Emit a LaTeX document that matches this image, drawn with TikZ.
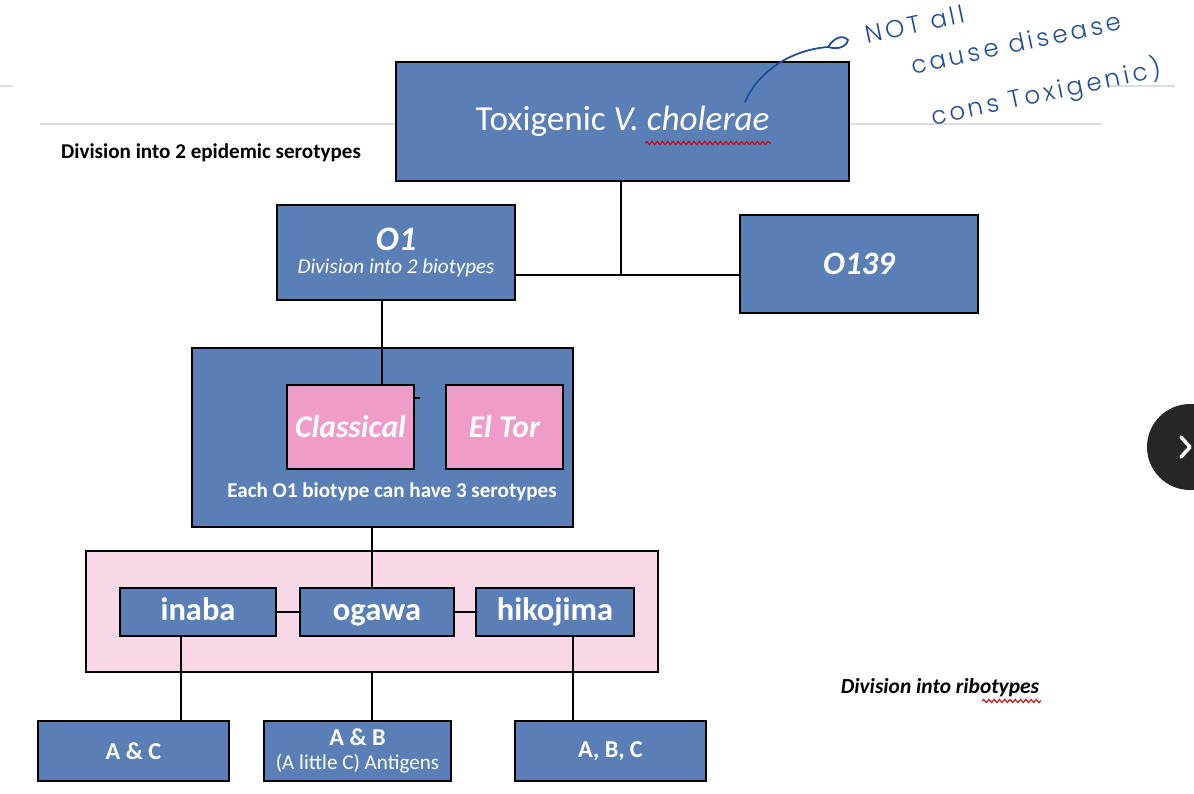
\documentclass[tikz,border=0pt]{standalone}
\usepackage{fontspec}
\setmainfont{Carlito}
\newfontfamily\handfont[LetterSpace=14]{Poppins Light}
\usetikzlibrary{decorations.pathmorphing}
\definecolor{boxblue}{HTML}{5A7EB6}
\definecolor{clpink}{HTML}{F09CC8}
\definecolor{bgpink}{HTML}{F8D8E7}
\definecolor{handblue}{HTML}{1E4C98}
\definecolor{rulegray}{HTML}{DDDDDD}
\tikzset{
  box/.style={draw=black, line width=1.1pt, fill=boxblue, text=white, inner sep=0pt, align=center},
  pinkbox/.style={draw=black, line width=1.1pt, fill=clpink, text=white, inner sep=0pt, align=center},
  bgbox/.style={draw=black, line width=0.8pt, fill=bgpink, inner sep=0pt},
  conn/.style={draw=black, line width=1.1pt},
  lbl/.style={inner sep=0pt, align=center},
  hand/.style={draw=handblue, line width=1pt, line cap=round},
  handtxt/.style={text=handblue, inner sep=0pt, font=\handfont\fontsize{14}{16}\selectfont},
  wavy/.style={draw=red!85!black, line width=0.6pt, decorate, decoration={snake, amplitude=0.9pt, segment length=3pt}}
}
\begin{document}
\begin{tikzpicture}[x=0.02cm, y=-0.02cm]
\useasboundingbox[fill=white] (0,0) rectangle (1194,794);
% faint rules
\draw[rulegray, line width=1.2pt] (0,86) -- (13,86);
\draw[rulegray, line width=1.2pt] (1110,86) -- (1175,86);
\draw[rulegray, line width=1.5pt] (40,124) -- (396,124);
\draw[rulegray, line width=1.5pt] (849,124) -- (1102,124);

\node[lbl, font=\bfseries\fontsize{12}{14}\selectfont] (epi) at (211,153) {Division into 2 epidemic serotypes};

% boxes
\node[box, minimum width=9.06cm, minimum height=2.38cm, font=\fontsize{20}{23}\selectfont] (top) at (622.5,121.5) {Toxigenic \textit{V. cholerae}};
\node[box, minimum width=4.76cm, minimum height=1.9cm] (o1) at (396,252.5) {{\bfseries\itshape\fontsize{19.5}{22}\selectfont O1}\\[1pt]{\itshape\fontsize{12}{14}\selectfont Division into 2 biotypes}};
\node[box, minimum width=4.76cm, minimum height=1.96cm, font=\bfseries\itshape\fontsize{18.6}{21}\selectfont] (o139) at (859,264) {O139};

\node[box, minimum width=7.62cm, minimum height=3.58cm] (big) at (382.5,437.5) {};
\node[pinkbox, minimum width=2.54cm, minimum height=1.68cm, font=\bfseries\itshape\fontsize{18}{21}\selectfont] (classical) at (350.5,427) {Classical};
\node[pinkbox, minimum width=2.34cm, minimum height=1.68cm, font=\bfseries\itshape\fontsize{18}{21}\selectfont] (eltor) at (504.5,427) {El Tor};
\node[lbl, text=white, font=\bfseries\fontsize{12}{14}\selectfont] (each) at (392,492) {Each O1 biotype can have 3 serotypes};

\node[bgbox, minimum width=11.44cm, minimum height=2.42cm] (bg) at (372,611.5) {};
\node[box, minimum width=3.12cm, minimum height=0.96cm, font=\bfseries\fontsize{18.5}{21}\selectfont] (inaba) at (198,612) {\vphantom{bg}inaba};
\node[box, minimum width=3.08cm, minimum height=0.96cm, font=\bfseries\fontsize{18.5}{21}\selectfont] (ogawa) at (377,612) {\vphantom{bg}ogawa};
\node[box, minimum width=3.16cm, minimum height=0.96cm, font=\bfseries\fontsize{18.5}{21}\selectfont] (hiko) at (555,612) {\vphantom{bg}hikojima};

\node[box, minimum width=3.82cm, minimum height=1.2cm, font=\bfseries\fontsize{13.8}{16}\selectfont] (ac) at (133.5,751) {A \& C};
\node[box, minimum width=3.74cm, minimum height=1.2cm] (ab) at (357.5,751) {{\bfseries\fontsize{13.8}{16}\selectfont A \& B}\\[2pt]{\fontsize{12}{14}\selectfont (A little C) Antigens}};
\node[box, minimum width=3.82cm, minimum height=1.2cm, font=\bfseries\fontsize{13.8}{16}\selectfont] (abc) at (610.5,751) {A, B, C};

\node[lbl, font=\bfseries\itshape\fontsize{12.2}{14}\selectfont] (ribo) at (940,688) {Division into ribotypes};

% connectors
\coordinate (j) at (621,275);
\coordinate (xa) at (382,0);
\coordinate (xb) at (372,0);
\coordinate (xc) at (181,0);
\coordinate (xd) at (573,0);
\coordinate (tk) at (0,398);
\draw[conn] (top.south -| j) -- (j);
\draw[conn] (o1.east |- j) -- (o139.west |- j);
\draw[conn] (o1.south -| xa) -- (classical.north -| xa);
\draw[conn] (classical.east |- tk) -- ++(5,0);
\draw[conn] (big.south -| xb) -- (ogawa.north -| xb);
\draw[conn] (inaba.east) -- (ogawa.west);
\draw[conn] (ogawa.east) -- (hiko.west);
\draw[conn] (inaba.south -| xc) -- (ac.north -| xc);
\draw[conn] (bg.south -| xb) -- (ab.north -| xb);
\draw[conn] (hiko.south -| xd) -- (abc.north -| xd);

% red wavy underlines
\draw[wavy] (645,143) -- (771,143);
\draw[wavy] (982,701) -- (1041,701);

% handwritten annotation
\coordinate (hs) at (745,102);
\coordinate (he) at (828,47);
\draw[hand] (hs) .. controls (758,72) and (790,50) .. (he);
\draw[hand] (he) .. controls (834,38) and (842,34) .. (848,40) .. controls (846,47) and (838,50) .. (he);
\node[handtxt, rotate=12] (n1) at (915,24) {NOT all};
\node[handtxt, rotate=12] (n2) at (1016,43) {cause disease};
\node[handtxt, rotate=12] (n3) at (1046,93) {cons Toxigenic)};

% navigation button
\node[circle, fill=black!85, minimum size=1.72cm, inner sep=0pt] (nav) at (1190,447) {};
\draw[white, line width=2pt, line cap=round, line join=round] ([shift={(-9,-10)}]nav.center) -- ([shift={(0,0)}]nav.center) -- ([shift={(-9,10)}]nav.center);
\end{tikzpicture}
\end{document}
